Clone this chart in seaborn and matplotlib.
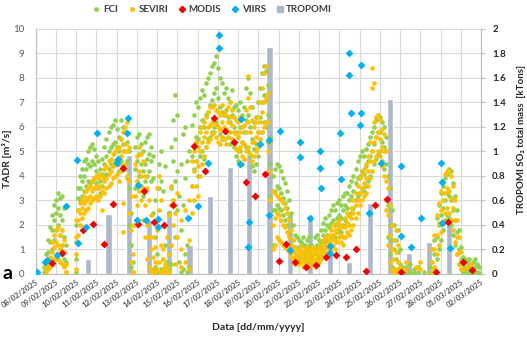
import matplotlib
matplotlib.use("Agg")
import matplotlib.pyplot as plt
from matplotlib.lines import Line2D
import seaborn as sns
import pandas as pd

# ---------------- data (x = days since 08/02/2025 00:00) ----------------
date_labels = ["08/02/2025", "09/02/2025", "10/02/2025", "11/02/2025", "12/02/2025",
               "13/02/2025", "14/02/2025", "15/02/2025", "16/02/2025", "17/02/2025",
               "18/02/2025", "19/02/2025", "20/02/2025", "21/02/2025", "22/02/2025",
               "23/02/2025", "24/02/2025", "25/02/2025", "26/02/2025", "27/02/2025",
               "28/02/2025", "01/03/2025", "02/03/2025"]

# FCI TADR [m3/s]: (day, values read at that time)
fci_cols = [
    (0.4, (0.1, 0.3)), (0.5, (0.2, 0.5, 0.8)), (0.6, (0.4, 0.9, 1.4)), (0.7, (0.6, 1.3, 1.9)),
    (0.8, (1.0, 1.8, 2.4)), (0.9, (1.4, 2.2, 2.8)), (1.0, (1.8, 2.5, 3.0)), (1.1, (2.0, 2.7, 3.3)),
    (1.2, (1.6, 2.4, 3.1)), (1.3, (1.2, 2.2, 3.2)), (1.4, (0.6, 1.5, 2.7)), (1.5, (0.1, 0.5, 1.2)),
    (2.0, (0.1, 0.6, 1.3, 2.0)), (2.1, (2.6, 3.1, 3.5)), (2.2, (3.0, 3.5, 4.0)), (2.3, (3.2, 3.8, 4.3)),
    (2.4, (3.4, 4.0, 4.6)), (2.5, (3.6, 4.3, 4.7)), (2.6, (3.8, 4.5, 5.0)), (2.7, (3.7, 4.4, 5.2)),
    (2.8, (3.8, 4.6, 5.3)), (2.9, (3.9, 4.5, 5.1)), (3.0, (3.7, 4.2, 4.8)), (3.1, (3.5, 4.0, 4.6)),
    (3.2, (3.3, 3.8, 4.3)), (3.3, (3.6, 4.1, 4.7)), (3.4, (3.9, 4.5, 5.2)), (3.5, (4.1, 4.8, 5.5)),
    (3.6, (4.3, 5.0, 5.8)), (3.7, (4.5, 5.2, 6.0)), (3.8, (4.4, 5.3, 6.1)), (3.9, (4.6, 5.4, 6.3)),
    (4.0, (4.5, 5.2, 5.9)), (4.1, (4.2, 5.0, 5.6)), (4.2, (4.6, 5.5, 6.3)), (4.3, (4.4, 5.3, 6.0)),
    (4.4, (4.3, 5.0, 5.8)), (4.5, (3.9, 4.6, 5.4)), (4.6, (2.0, 3.5, 5.0)), (4.7, (0.3, 1.2, 2.5)),
    (4.8, (0.1, 0.5)), (4.9, (3.5, 4.3, 5.2)), (5.0, (3.8, 4.6, 5.6)), (5.1, (4.0, 4.9, 5.7)),
    (5.2, (3.6, 4.5, 5.3)), (5.3, (3.2, 4.2, 5.0)), (5.4, (3.8, 4.5, 5.4)), (5.5, (4.0, 4.7, 5.6)),
    (5.6, (4.2, 4.9, 5.7)), (5.7, (3.8, 4.6, 5.2)), (5.8, (2.5, 3.9, 4.8)), (5.9, (0.3, 1.5, 3.0)),
    (6.0, (0.1, 0.8, 2.2)), (6.1, (3.5, 4.5)), (6.2, (0.2, 3.8, 5.0)), (6.3, (0.1, 0.6, 3.4)),
    (6.4, (0.3, 1.2, 4.4)), (6.5, (0.1, 0.5)), (6.6, (0.2, 2.5)), (6.7, (0.4, 3.5, 5.2)),
    (6.8, (3.0, 4.6, 6.3)), (6.9, (1.5, 3.8, 5.5, 7.3)), (7.0, (2.6, 4.2, 6.5)), (7.1, (0.5, 3.2)),
    (7.2, (0.1, 1.8, 4.5)), (7.3, (0.2, 2.8, 5.7)), (7.4, (0.8, 3.9, 6.0)), (7.5, (0.1, 1.2, 4.6)),
    (7.6, (0.3, 2.3, 5.0)), (7.7, (3.6, 4.8, 6.1)), (7.8, (4.3, 5.2, 6.5)), (7.9, (4.6, 5.6, 7.0)),
    (8.0, (4.0, 5.5, 6.8)), (8.1, (4.8, 6.0, 7.2)), (8.2, (5.0, 6.3, 7.5)), (8.3, (4.7, 6.0, 7.3)),
    (8.4, (5.2, 6.5, 7.8)), (8.5, (5.5, 6.6, 8.0)), (8.6, (5.6, 6.9, 8.2)), (8.7, (5.8, 7.1, 8.5)),
    (8.8, (6.0, 7.4, 8.6)), (8.9, (6.2, 7.6, 8.9)), (9.0, (6.0, 7.2, 8.4)), (9.1, (5.7, 6.8, 8.0)),
    (9.2, (5.5, 6.6, 7.8)), (9.3, (5.5, 6.5, 7.4)), (9.4, (5.8, 6.7, 7.6)), (9.5, (5.6, 6.4, 7.2)),
    (9.6, (5.3, 6.2, 7.0)), (9.7, (5.5, 6.5, 7.5)), (9.8, (5.2, 6.0, 6.8)), (9.9, (4.8, 5.8, 6.9)),
    (10.0, (4.6, 5.6, 6.7)), (10.1, (5.0, 6.0, 7.0)), (10.2, (4.5, 5.4, 6.5)), (10.3, (4.7, 5.8, 6.8)),
    (10.4, (5.2, 6.3, 7.6)), (10.5, (5.0, 6.5, 8.0)), (10.6, (4.8, 6.0, 7.4)), (10.7, (4.4, 5.5, 6.8)),
    (10.8, (4.2, 5.1, 6.2)), (10.9, (4.5, 5.3, 6.4)), (11.0, (4.8, 5.8, 7.0)), (11.1, (5.3, 6.4, 7.6)),
    (11.2, (5.8, 7.0, 8.2)), (11.3, (6.2, 7.3, 8.5)), (11.4, (6.0, 7.1, 8.3)), (11.5, (5.4, 6.5, 7.7)),
    (11.6, (3.2, 4.5, 5.6)), (11.7, (1.2, 2.6, 4.0)), (11.8, (2.6, 3.4, 4.3)), (11.9, (2.8, 3.6, 4.5)),
    (12.0, (2.7, 3.5, 4.4)), (12.1, (2.6, 3.3, 4.2)), (12.2, (2.4, 3.1, 3.9)), (12.3, (2.2, 2.9, 3.7)),
    (12.4, (2.0, 2.7, 3.4)), (12.5, (1.6, 2.3, 3.0)), (12.6, (1.2, 1.8, 2.5)), (12.7, (0.9, 1.4, 2.0)),
    (12.8, (0.7, 1.1, 1.6)), (12.9, (0.6, 1.0, 1.5)), (13.0, (0.7, 1.1, 1.4)), (13.1, (0.6, 0.9, 1.3)),
    (13.2, (0.8, 1.2, 1.5)), (13.3, (0.5, 0.9, 1.2)), (13.4, (0.6, 1.0, 1.4)), (13.5, (0.7, 1.1, 1.5)),
    (13.6, (0.5, 0.8, 1.2)), (13.7, (0.4, 0.8, 1.1)), (13.8, (0.6, 1.0, 1.5)), (13.9, (0.8, 1.2, 1.6)),
    (14.0, (0.6, 1.0, 1.4)), (14.1, (0.8, 1.3, 1.8)), (14.2, (1.1, 1.6, 2.1)), (14.3, (1.3, 1.8, 2.3)),
    (14.4, (1.1, 1.6, 2.0)), (14.5, (1.3, 1.9, 2.4)), (14.6, (1.5, 2.1, 2.6)), (14.7, (1.6, 2.2, 2.8)),
    (14.8, (1.5, 2.0, 2.6)), (14.9, (1.7, 2.3, 2.9)), (15.0, (1.8, 2.4, 3.0)), (15.1, (1.7, 2.3, 2.8)),
    (15.2, (2.0, 2.6, 3.2)), (15.3, (2.2, 2.8, 3.3)), (15.4, (2.1, 2.7, 3.3)), (15.5, (2.4, 3.0, 3.6)),
    (15.6, (2.5, 3.2, 3.8)), (15.7, (2.7, 3.4, 4.0)), (15.8, (3.0, 3.7, 4.3)), (15.9, (3.2, 3.9, 4.6)),
    (16.0, (3.3, 4.0, 4.8)), (16.1, (3.5, 4.2, 5.0)), (16.2, (3.4, 4.1, 4.8)), (16.3, (3.6, 4.4, 5.1)),
    (16.4, (3.8, 4.6, 5.3)), (16.5, (4.0, 4.8, 5.6)), (16.6, (4.2, 5.0, 5.8)), (16.7, (4.5, 5.3, 6.0)),
    (16.8, (4.7, 5.6, 6.3)), (16.9, (4.9, 5.8, 6.5)), (17.0, (5.0, 5.8, 6.4)), (17.1, (4.6, 5.4, 6.2)),
    (17.2, (4.3, 5.2, 6.0)), (17.3, (3.0, 4.5, 5.6)), (17.4, (1.5, 2.8, 4.0)), (17.5, (0.8, 2.0, 3.5)),
    (17.6, (0.3, 1.4, 2.6)), (17.7, (0.2, 1.0, 2.0)), (17.8, (0.1, 0.6, 1.4)), (17.9, (0.2, 0.9, 1.8)),
    (18.0, (0.1, 0.4, 1.0)), (18.1, (0.1, 0.3)), (18.3, (0.05, 0.3)), (18.5, (0.1, 0.4)),
    (18.7, (0.05, 0.2)), (18.9, (0.1, 0.3)), (19.2, (0.1,)), (19.5, (0.05, 0.3)),
    (19.7, (0.2, 0.8, 1.4)), (19.8, (0.6, 1.5, 2.3)), (19.9, (1.0, 2.0, 2.8)), (20.0, (1.4, 2.4, 3.3)),
    (20.1, (1.8, 2.7, 3.6)), (20.2, (2.2, 3.0, 3.9)), (20.3, (2.4, 3.3, 4.1)), (20.4, (2.3, 3.2, 4.3)),
    (20.5, (2.0, 3.0, 4.2)), (20.6, (1.6, 2.6, 3.7)), (20.7, (1.2, 2.2, 3.2)), (20.8, (0.8, 1.7, 2.6)),
    (20.9, (0.4, 1.0, 1.8)), (21.0, (0.2, 0.6, 1.1)), (21.1, (0.1, 0.4, 0.7)), (21.2, (0.1, 0.3, 0.6)),
    (21.3, (0.2, 0.5)), (21.4, (0.05, 0.3, 0.6)), (21.5, (0.1, 0.4)), (21.6, (0.2, 0.5)),
    (21.7, (0.05, 0.3, 0.6)), (21.8, (0.1, 0.4)), (21.9, (0.05, 0.3)),
]

# SEVIRI TADR [m3/s]
seviri_cols = [
    (0.5, (0.1, 0.3)), (0.6, (0.2, 0.5)), (0.7, (0.3, 0.7)), (0.8, (0.4, 0.9, 1.3)),
    (0.9, (0.6, 1.1, 1.6)), (1.0, (0.7, 1.3, 1.8)), (1.1, (0.6, 1.2, 1.9)), (1.2, (0.5, 1.0, 1.6)),
    (1.3, (0.4, 1.2, 1.8)), (1.4, (0.3, 0.9, 1.4)), (1.5, (0.1, 0.4)), (2.0, (0.2, 0.8, 1.5, 2.2)),
    (2.1, (1.6, 2.2, 2.6)), (2.2, (2.0, 2.5, 2.9)), (2.3, (2.3, 2.7, 3.0)), (2.4, (2.5, 2.9, 3.2)),
    (2.5, (2.6, 3.0, 3.4)), (2.6, (2.7, 3.1, 3.5)), (2.7, (2.9, 3.2, 3.6)), (2.8, (3.0, 3.4, 3.8)),
    (2.9, (3.1, 3.5, 3.9)), (3.0, (3.2, 3.6, 4.0)), (3.1, (3.0, 3.5, 3.9)), (3.2, (3.2, 3.6, 4.1)),
    (3.3, (2.6, 3.4, 4.0)), (3.4, (3.3, 3.8, 4.3)), (3.5, (3.5, 3.9, 4.4)), (3.6, (3.6, 4.1, 4.6)),
    (3.7, (3.7, 4.2, 4.7)), (3.8, (3.9, 4.4, 4.9)), (3.9, (4.0, 4.5, 5.0)), (4.0, (4.1, 4.6, 5.1)),
    (4.1, (3.8, 4.5, 5.2)), (4.2, (4.2, 4.8, 5.5)), (4.3, (1.7, 2.9, 4.4, 5.0, 5.8)), (4.4, (4.5, 5.3, 6.0)),
    (4.5, (4.0, 5.0, 6.2)), (4.6, (2.5, 3.8, 5.2)), (4.7, (0.5, 1.8, 3.2)), (4.8, (0.1, 0.8, 2.0)),
    (4.9, (2.0, 3.2, 4.5)), (5.0, (2.8, 3.8, 4.8)), (5.1, (3.4, 4.2, 5.2)), (5.2, (3.0, 4.0, 4.9)),
    (5.3, (2.2, 3.5, 4.6)), (5.4, (1.5, 2.8, 4.0)), (5.5, (0.6, 2.0, 3.5)), (5.6, (0.3, 1.5, 3.0)),
    (5.7, (0.1, 1.0, 2.4)), (5.8, (0.2, 0.7, 1.5)), (5.9, (0.1, 0.5, 1.1)), (6.0, (0.2, 1.8, 3.5)),
    (6.1, (0.5, 2.6, 4.0)), (6.2, (0.1, 1.2, 3.0)), (6.3, (0.2, 0.6, 1.0)), (6.4, (0.1, 0.4)),
    (6.5, (0.3, 1.5)), (6.6, (0.1, 0.8, 2.4)), (6.7, (1.2, 2.8, 3.6)), (6.8, (2.0, 3.0)),
    (6.9, (0.4, 2.5)), (7.0, (1.5, 3.3)), (7.2, (0.3, 1.0, 2.2)), (7.4, (0.5, 2.6)),
    (7.6, (0.2, 1.4, 3.0)), (7.7, (2.5, 3.6, 4.6)), (7.8, (3.0, 4.2, 5.0)), (7.9, (3.6, 4.6, 5.4)),
    (8.0, (3.2, 4.4, 5.2)), (8.1, (4.0, 5.0, 5.8)), (8.2, (4.5, 5.4, 6.0)), (8.3, (4.8, 5.6, 6.2)),
    (8.4, (5.2, 5.8, 6.4)), (8.5, (5.4, 6.0, 6.6)), (8.6, (5.5, 6.1, 6.8)), (8.7, (5.7, 6.2, 6.8)),
    (8.8, (5.8, 6.3, 6.9)), (8.9, (5.6, 6.1, 6.7)), (9.0, (5.4, 6.0, 6.6)), (9.1, (5.3, 5.9, 6.5)),
    (9.2, (5.6, 6.2, 6.9)), (9.3, (5.5, 6.0, 6.6)), (9.4, (5.3, 5.9, 6.5)), (9.5, (5.6, 6.2, 6.8)),
    (9.6, (5.8, 6.4, 7.0)), (9.7, (5.5, 6.1, 6.7)), (9.8, (5.3, 5.8, 6.4)), (9.9, (5.1, 5.7, 6.3)),
    (10.0, (5.0, 5.6, 6.2)), (10.1, (5.2, 5.8, 6.4)), (10.2, (4.8, 5.4, 6.0)), (10.3, (4.7, 5.3, 6.1)),
    (10.4, (5.0, 5.8, 6.7)), (10.5, (5.2, 6.2, 7.2, 8.1)), (10.6, (4.9, 5.8, 6.8)), (10.7, (4.6, 5.4, 6.3)),
    (10.8, (4.8, 5.4, 6.0)), (10.9, (5.0, 5.6, 6.2)), (11.0, (5.2, 5.8, 6.4)), (11.1, (5.5, 6.2, 7.0)),
    (11.2, (5.8, 6.6, 7.6)), (11.3, (6.0, 7.0, 8.2)), (11.4, (6.2, 7.2, 8.5)), (11.5, (5.0, 6.2, 7.4)),
    (11.6, (3.0, 4.2, 5.4)), (11.7, (1.0, 2.0, 3.4)), (11.8, (1.2, 2.3, 3.3)), (11.9, (1.5, 2.5, 3.2)),
    (12.0, (1.4, 2.4, 3.1)), (12.1, (1.3, 2.2, 3.0)), (12.2, (1.2, 2.0, 2.9)), (12.3, (1.1, 1.9, 2.7)),
    (12.4, (1.0, 1.7, 2.5)), (12.5, (0.9, 1.5, 2.2)), (12.6, (0.7, 1.2, 1.8)), (12.7, (0.5, 0.9, 1.4)),
    (12.8, (0.4, 0.7, 1.1)), (12.9, (0.5, 0.8, 1.0)), (13.0, (0.4, 0.6, 0.9)), (13.1, (0.5, 0.8, 1.1)),
    (13.2, (0.3, 0.6, 0.9)), (13.3, (0.4, 0.7, 1.0)), (13.4, (0.5, 0.8, 1.1)), (13.5, (0.3, 0.6, 0.9)),
    (13.6, (0.4, 0.7, 1.0)), (13.7, (0.5, 0.8, 1.1)), (13.8, (0.3, 0.6, 0.9)), (13.9, (0.4, 0.7, 1.0)),
    (14.0, (0.5, 0.8, 1.1)), (14.1, (0.6, 0.9, 1.2)), (14.2, (0.7, 1.0, 1.4)), (14.3, (0.9, 1.2, 1.5)),
    (14.4, (0.8, 1.1, 1.4)), (14.5, (1.0, 1.3, 1.6)), (14.6, (1.1, 1.4, 1.8)), (14.7, (1.2, 1.6, 2.0)),
    (14.8, (1.0, 1.4, 1.8)), (14.9, (1.3, 1.7, 2.1)), (15.0, (1.5, 1.9, 2.2)), (15.1, (1.3, 1.6, 2.0)),
    (15.2, (1.2, 1.5, 1.9)), (15.3, (1.5, 1.9, 2.3)), (15.4, (1.7, 2.1, 2.5)), (15.5, (1.6, 2.0, 2.4)),
    (15.6, (1.8, 2.3, 2.7)), (15.7, (2.0, 2.5, 3.0)), (15.8, (2.3, 2.8, 3.3)), (15.9, (2.5, 3.0, 3.6)),
    (16.0, (2.8, 3.3, 3.9)), (16.1, (3.0, 3.5, 4.1)), (16.2, (3.2, 3.7, 4.3)), (16.3, (3.3, 3.9, 4.5)),
    (16.4, (3.6, 4.2, 4.8)), (16.5, (3.9, 4.6, 5.4)), (16.6, (4.2, 5.0, 7.6, 8.4)), (16.7, (4.6, 5.4, 6.2, 7.8)),
    (16.8, (4.8, 5.6, 6.4)), (16.9, (5.0, 5.8, 6.5)), (17.0, (4.8, 5.5, 6.3)), (17.1, (4.4, 5.2, 5.9)),
    (17.2, (4.0, 5.0, 5.7)), (17.3, (2.6, 3.8, 5.0)), (17.4, (1.2, 2.4, 3.5)), (17.5, (0.5, 1.6, 2.8)),
    (17.6, (0.2, 1.0, 2.0)), (17.7, (0.1, 0.6, 1.4)), (17.8, (0.2, 0.9, 1.8)), (17.9, (0.1, 0.5, 1.2)),
    (18.0, (0.1, 0.3)), (18.3, (0.2, 0.5)), (18.8, (0.3,)), (19.0, (0.2, 0.5)),
    (19.6, (0.1, 0.5, 1.0)), (19.7, (0.3, 1.0, 1.6)), (19.8, (0.8, 1.6, 2.4)), (19.9, (1.2, 2.1, 2.9)),
    (20.0, (1.7, 2.6, 3.4)), (20.1, (2.1, 3.0, 3.8)), (20.2, (2.5, 3.3, 4.1)), (20.3, (2.7, 3.5, 4.2)),
    (20.4, (2.5, 3.4, 4.2)), (20.5, (2.2, 3.1, 4.0)), (20.6, (1.8, 2.7, 3.6)), (20.7, (1.3, 2.2, 3.0)),
    (20.8, (0.8, 1.5, 2.2)), (20.9, (0.4, 0.9, 1.5)), (21.0, (0.2, 0.5, 0.9)), (21.1, (0.2, 0.5)),
    (21.3, (0.3,)), (21.5, (0.2, 0.4)),
]

modis_day = [0.80, 1.32, 2.35, 2.83, 3.39, 3.83, 4.33, 5.04, 5.37, 5.83, 6.32, 6.79, 7.81, 8.35,
             8.83, 9.34, 9.82, 10.37, 10.83, 11.32, 12.02, 12.36, 12.79, 13.37, 13.87, 14.36,
             14.82, 15.35, 15.81, 16.31, 16.77, 17.35, 18.04, 19.77, 20.35, 21.09, 21.55]
modis_val = [0.44, 0.84, 1.81, 2.03, 1.21, 2.86, 4.31, 2.03, 3.39, 2.11, 2.00, 2.82, 5.22, 4.20,
             6.35, 5.84, 5.37, 3.77, 3.20, 4.07, 0.53, 1.22, 0.50, 0.29, 0.37, 0.68,
             0.78, 0.71, 1.02, 0.14, 2.82, 3.05, 0.10, 0.10, 2.11, 0.48, 0.16]

viirs_day = [0.05, 0.47, 0.55, 1.04, 1.49, 2.03, 2.07, 2.51, 3.02, 4.01, 4.08, 4.49, 4.54, 5.05,
             5.03, 5.47, 6.04, 6.04, 7.53, 8.02, 8.49, 9.05, 9.05, 10.12, 10.08, 11.07, 11.52,
             12.06, 11.55, 10.53, 10.48, 12.54, 13.05, 13.05, 13.53, 14.03, 14.03, 14.08, 14.52,
             14.52, 15.02, 15.02, 15.10, 15.48, 15.48, 15.56, 16.06, 16.06, 16.01, 16.47, 17.05,
             18.04, 18.04, 18.53, 19.03, 20.02, 20.05, 20.05, 20.48]
viirs_val = [0.10, 0.48, 0.56, 0.78, 2.79, 4.65, 1.28, 1.93, 5.77, 4.54, 4.70, 5.77, 6.38, 3.63,
             2.20, 2.20, 2.23, 1.93, 2.27, 2.78, 4.54, 9.76, 9.24, 6.33, 4.48, 5.31, 5.47,
             5.84, 2.41, 2.11, 1.09, 0.98, 5.40, 4.76, 2.30, 5.02, 4.31, 3.50, 1.14,
             0.87, 5.74, 4.56, 3.88, 9.03, 8.12, 6.56, 8.53, 6.58, 6.08, 2.50, 4.52,
             4.42, 1.55, 1.12, 2.30, 4.52, 3.74, 2.07, 1.05]

tropomi_day = [2.6, 3.6, 4.6, 5.6, 6.6, 7.6, 8.6, 9.6, 10.55, 11.55, 12.55, 13.55, 14.55,
               15.5, 16.5, 17.5, 18.45, 19.45, 20.4, 21.4]
tropomi_val = [0.12, 0.49, 0.97, 0.44, 0.52, 0.24, 0.64, 0.87, 0.98, 1.85, 0.50, 0.47, 0.25,
               0.095, 0.58, 1.43, 0.17, 0.26, 0.41, 0.09]

# ---------------- build tables ----------------
def expand(cols):
    return pd.DataFrame([(d, v) for d, vals in cols for v in vals], columns=["day", "val"])

fci_df = expand(fci_cols)
sev_df = expand(seviri_cols)
modis_df = pd.DataFrame({"day": modis_day, "val": modis_val})
viirs_df = pd.DataFrame({"day": viirs_day, "val": viirs_val})

# ---------------- style ----------------
sns.set_theme(style="white")
plt.rcParams["font.family"] = ["Lato", "DejaVu Sans"]

C_FCI = "#92D050"
C_SEV = "#FFC000"
C_MOD = "#F00000"
C_VII = "#00B0F0"
C_TRO = "#ADB9CA"
GRID = "#D9D9D9"

fig = plt.figure(figsize=(5.27, 3.37), dpi=100)
ax = fig.add_axes([0.0676, 0.187, 0.8452, 0.727])
ax2 = ax.twinx()

# bars on secondary axis, behind points
ax2.bar(tropomi_day, tropomi_val, width=0.3, color=C_TRO, zorder=2)
ax2.set_ylim(0, 2)
ax2.set_yticks([0, 0.2, 0.4, 0.6, 0.8, 1, 1.2, 1.4, 1.6, 1.8, 2])
ax2.set_yticklabels(["0", "0.2", "0.4", "0.6", "0.8", "1", "1.2", "1.4", "1.6", "1.8", "2"],
                    fontweight="bold", fontsize=7, color="#262626")
ax2.yaxis.grid(True, color=GRID, lw=0.8)
ax2.set_axisbelow(True)
ax2.tick_params(axis="y", which="both", direction="out", length=3, width=0.8,
                color="#BFBFBF", pad=5, right=True)

ax.set_zorder(ax2.get_zorder() + 1)
ax.patch.set_visible(False)

sns.scatterplot(data=fci_df, x="day", y="val", ax=ax, color=C_FCI, s=11, linewidth=0,
                marker="o", zorder=3, legend=False)
sns.scatterplot(data=sev_df, x="day", y="val", ax=ax, color=C_SEV, s=11, linewidth=0,
                marker="o", zorder=4, legend=False)
sns.scatterplot(data=modis_df, x="day", y="val", ax=ax, color=C_MOD, s=16, linewidth=0,
                marker="D", zorder=5, legend=False)
sns.scatterplot(data=viirs_df, x="day", y="val", ax=ax, color=C_VII, s=16, linewidth=0,
                marker="D", zorder=6, legend=False)

ax.set_xlim(0, 22)
ax.set_ylim(0, 10)
ax.set_yticks(range(0, 11))
ax.set_yticklabels([str(i) for i in range(0, 11)], fontsize=7, color="#595959")
ax.set_xticks(range(0, 23))
ax.set_xticklabels(date_labels, rotation=35, ha="right", rotation_mode="anchor",
                   fontsize=5.6, fontweight="bold", color="#595959")
ax.tick_params(axis="x", length=0, pad=3)
ax.tick_params(axis="y", length=0, pad=8)
ax.xaxis.grid(True, color=GRID, lw=0.8)
ax.yaxis.grid(False)
ax2.xaxis.grid(False)

for a in (ax, ax2):
    a.spines["top"].set_visible(False)
    for side in ("left", "bottom", "right"):
        a.spines[side].set_color("#BFBFBF")
        a.spines[side].set_linewidth(0.8)

ax.set_xlabel("Data [dd/mm/yyyy]", fontsize=7.5, fontweight="bold", color="#262626")
ax.xaxis.set_label_coords(0.5, -0.2)
ax.set_ylabel("TADR [m³/s]", fontsize=7.5, fontweight="bold", color="#262626")
ax.yaxis.set_label_coords(-0.052, 0.47)
ax2.set_ylabel("TROPOMI SO₂ total mass  [kTons]", fontsize=7, fontweight="bold",
               color="#262626")
ax2.yaxis.set_label_coords(1.08, 0.55)

fig.text(0.004, 0.172, "a", fontsize=14, fontweight="bold", color="black")

handles = [
    Line2D([], [], ls="", marker="o", ms=2.5, color=C_FCI),
    Line2D([], [], ls="", marker="o", ms=2.5, color=C_SEV),
    Line2D([], [], ls="", marker="D", ms=3.2, color=C_MOD),
    Line2D([], [], ls="", marker="D", ms=3.2, color=C_VII),
    Line2D([], [], ls="", marker="s", ms=4.5, color=C_TRO),
]
fig.legend(handles, ["FCI", "SEVIRI", "MODIS", "VIIRS", "TROPOMI"], loc="center",
           bbox_to_anchor=(0.403, 0.972), ncol=5, frameon=False,
           handlelength=0.8, handletextpad=0.3, columnspacing=1.0,
           prop={"weight": "bold", "size": 7}, labelcolor="#404040")

fig.savefig("out.png", dpi=100)
